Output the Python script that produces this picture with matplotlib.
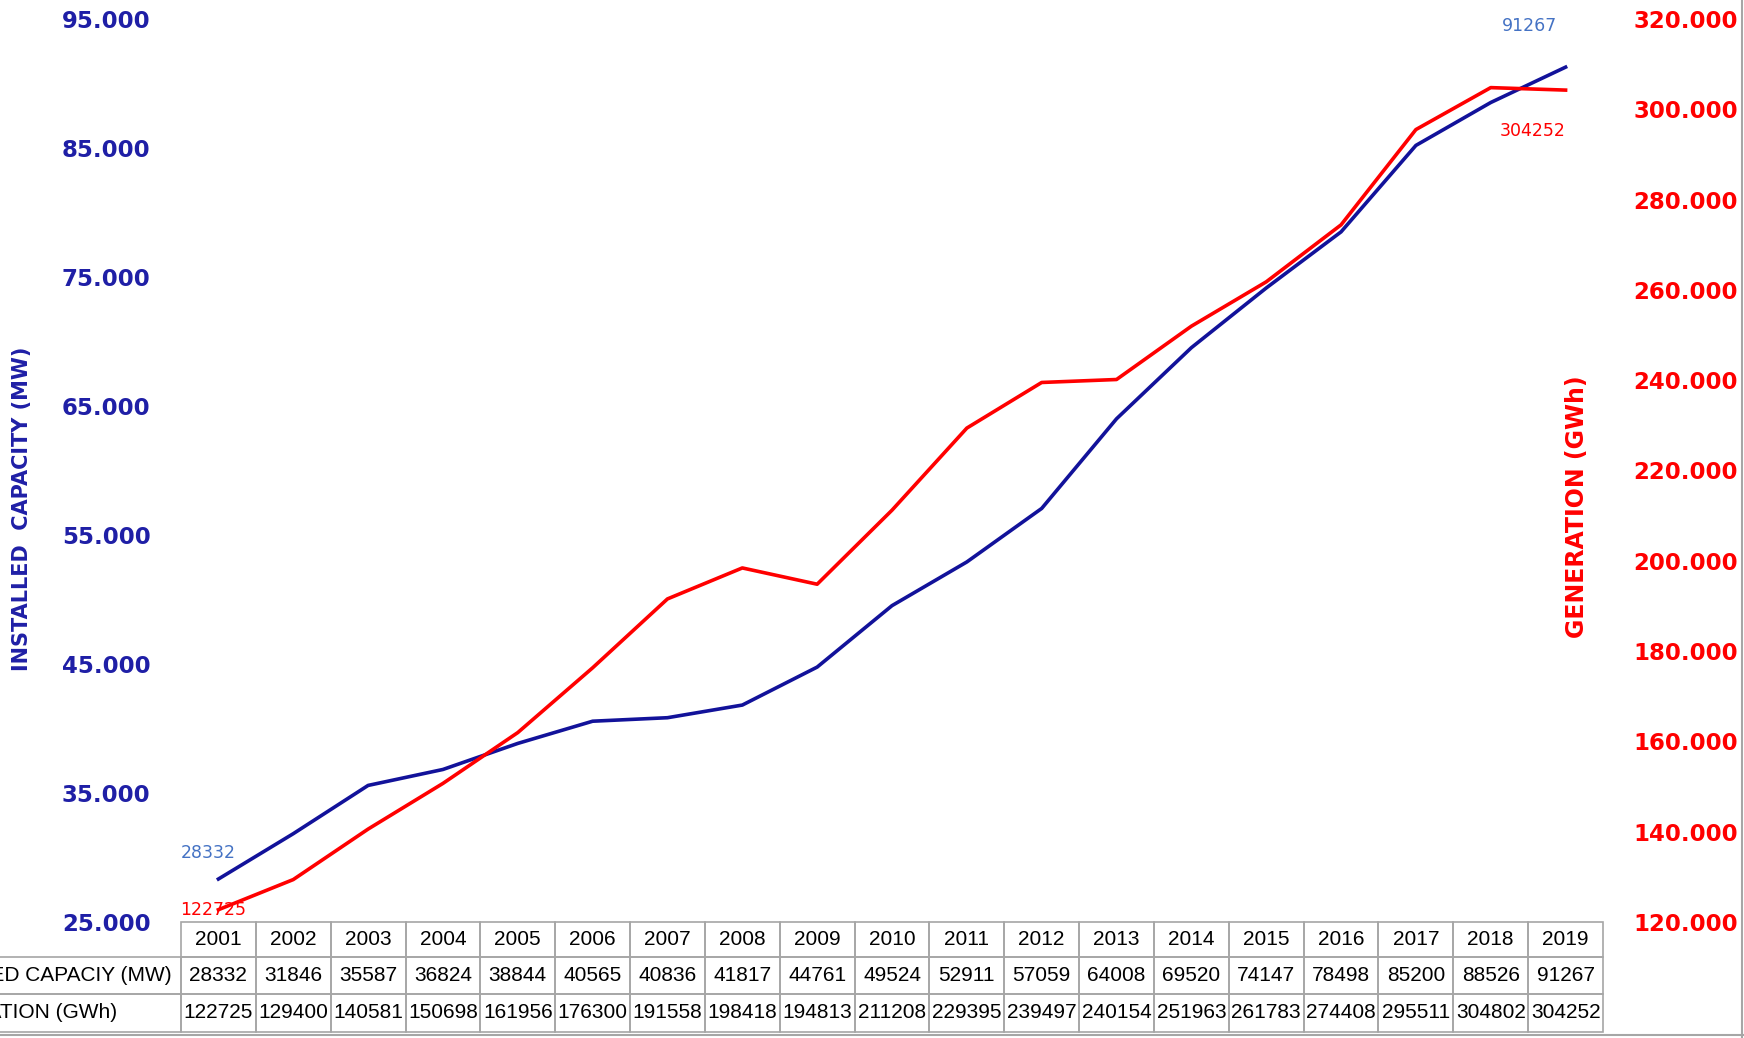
import matplotlib.pyplot as plt
import matplotlib.transforms as mtransforms
from matplotlib.patches import Rectangle
from matplotlib.lines import Line2D
from matplotlib.ticker import FuncFormatter
import numpy as np

years = [2001, 2002, 2003, 2004, 2005, 2006, 2007, 2008, 2009, 2010,
         2011, 2012, 2013, 2014, 2015, 2016, 2017, 2018, 2019]
capacity = [28332, 31846, 35587, 36824, 38844, 40565, 40836, 41817, 44761, 49524,
            52911, 57059, 64008, 69520, 74147, 78498, 85200, 88526, 91267]
generation = [122725, 129400, 140581, 150698, 161956, 176300, 191558, 198418, 194813, 211208,
              229395, 239497, 240154, 251963, 261783, 274408, 295511, 304802, 304252]
row_labels = ["INSTALLED CAPACIY (MW)", "GENERATION (GWh)"]

blue = "#12129a"
red = "#ff0000"
tick_blue = "#1f1fa6"
grid_col = "#a6a6a6"
narrow = ["Liberation Sans Narrow", "Liberation Sans"]

W, H = 1744, 1038
fig = plt.figure(figsize=(W / 100, H / 100), dpi=100)
L, R, T, B = 181, 1603, 19, 922
ax = fig.add_axes([L / W, 1 - B / H, (R - L) / W, (B - T) / H])
ax2 = ax.twinx()

x = np.arange(len(years))
ax.plot(x, capacity, color=blue, lw=2.6, solid_joinstyle="round")
ax2.plot(x, generation, color=red, lw=2.6, solid_joinstyle="round")

ax.set_xlim(-0.5, len(years) - 0.5)
ax.set_ylim(25000, 95000)
ax.set_yticks(np.arange(25000, 95001, 10000))
ax2.set_ylim(120000, 320000)
ax2.set_yticks(np.arange(120000, 320001, 20000))

fmt = FuncFormatter(lambda v, p: f"{v/1000:.3f}")
ax.yaxis.set_major_formatter(fmt)
ax2.yaxis.set_major_formatter(fmt)
ax.set_xticks([])

for a in (ax, ax2):
    for s in a.spines.values():
        s.set_visible(False)
ax.tick_params(axis="y", length=0, pad=22, labelsize=16.5, labelcolor=tick_blue)
ax2.tick_params(axis="y", length=0, pad=22, labelsize=16.5, labelcolor=red)
for lab in ax.get_yticklabels() + ax2.get_yticklabels():
    lab.set_fontweight("bold")

fig.text(22 / W, 1 - 509 / H, "INSTALLED  CAPACITY (MW)", rotation=90, ha="center", va="center",
         color=tick_blue, fontsize=15, fontweight="bold")
fig.text(1577 / W, 1 - 507 / H, "GENERATION (GWh)", rotation=90, ha="center", va="center",
         color=red, fontsize=17, fontweight="bold")

# end-point labels
ax.annotate(str(capacity[0]), (x[0], capacity[0]), xytext=(-38, 26), textcoords="offset pixels",
            ha="left", va="center", color="#4472c4", fontsize=12.5)
ax2.annotate(str(generation[0]), (x[0], generation[0]), xytext=(-38, 0), textcoords="offset pixels",
             ha="left", va="center", color=red, fontsize=12.5)
ax.annotate(str(capacity[-1]), (x[-1], capacity[-1]), xytext=(-36, 41), textcoords="offset pixels",
            ha="center", va="center", color="#4472c4", fontsize=12.5)
ax2.annotate(str(generation[-1]), (x[-1], generation[-1]), xytext=(-33, -41), textcoords="offset pixels",
             ha="center", va="center", color=red, fontsize=12.5)

# data table under the plot
trans = ax.get_xaxis_transform()
ah = B - T
rows_px = [922, 957, 994, 1032]
rows = [-(r - B) / ah for r in rows_px]
table_rows = [[str(y) for y in years], [str(v) for v in capacity], [str(v) for v in generation]]
label_end = [172, 117]
lt = mtransforms.blended_transform_factory(fig.transFigure, ax.transAxes)
for r in range(3):
    y0, y1 = rows[r + 1], rows[r]
    for i in range(len(years)):
        ax.add_patch(Rectangle((i - 0.5, y0), 1, y1 - y0, transform=trans, fill=False,
                               edgecolor=grid_col, lw=1.2, clip_on=False))
        ax.text(i, (y0 + y1) / 2, table_rows[r][i], transform=trans, ha="center", va="center",
                fontsize=15, family=narrow, clip_on=False)
    if r > 0:
        ax.add_patch(Rectangle((-6, y0), 5.5, y1 - y0, transform=trans, fill=False,
                               edgecolor=grid_col, lw=1.2, clip_on=False))
        ax.text(label_end[r - 1] / W, (y0 + y1) / 2, row_labels[r - 1], transform=lt, ha="right",
                va="center", fontsize=15, family=narrow, clip_on=False)

# chart area border
fig.add_artist(Line2D([1742 / W, 1742 / W], [0, 1], transform=fig.transFigure, color=grid_col, lw=1.5))
fig.add_artist(Line2D([0, 1], [3 / H, 3 / H], transform=fig.transFigure, color=grid_col, lw=1.5))

fig.savefig("out.png", dpi=100)
